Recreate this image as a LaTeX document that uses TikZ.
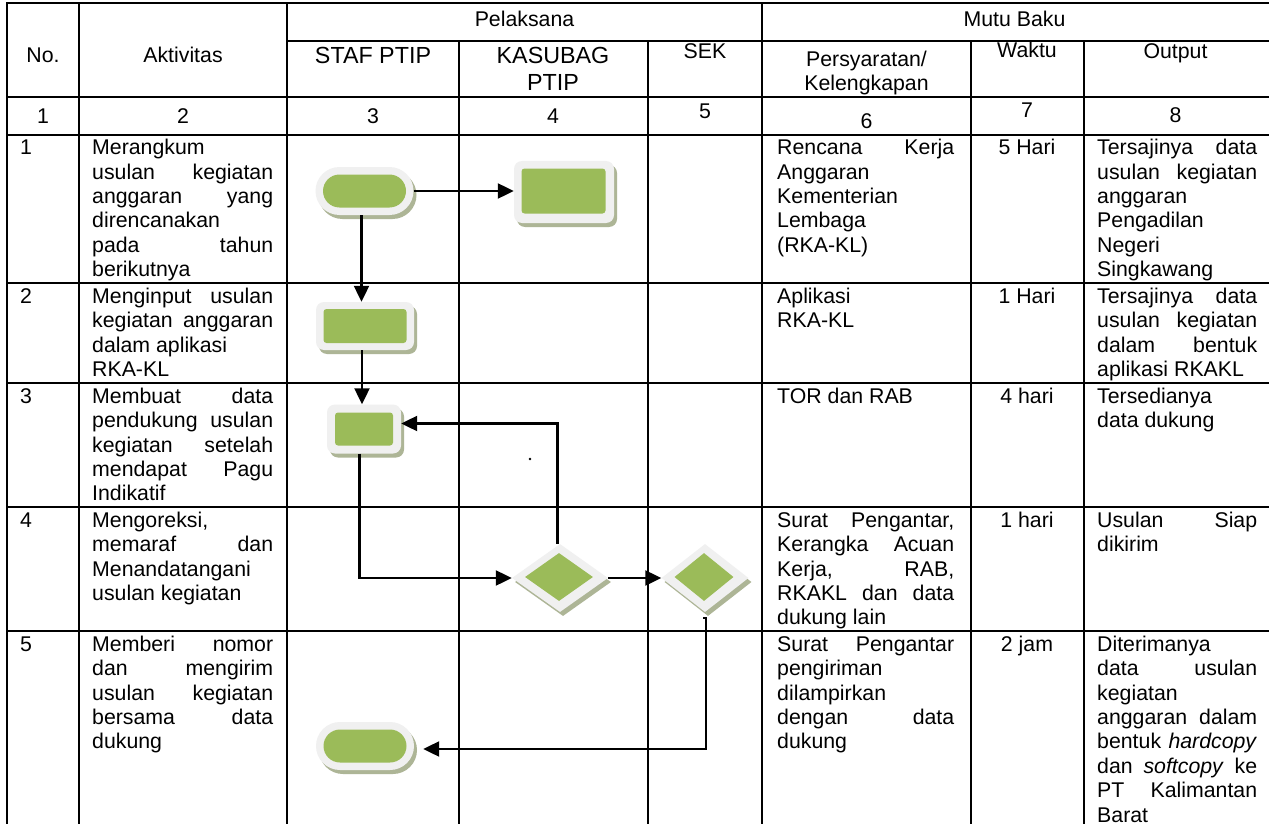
\documentclass[tikz,border=0pt]{standalone}
\usepackage{fontspec}
\setmainfont{Liberation Sans}
\usetikzlibrary{arrows.meta,shapes.geometric,shadows}
\definecolor{grn}{HTML}{9BBB59}
\definecolor{outerc}{HTML}{F0F0F0}
\definecolor{shd}{HTML}{ADB596}
\newcommand\JA[1]{\makebox[181pt][s]{#1}}
\newcommand\JP[1]{\makebox[177pt][s]{#1}}
\newcommand\JO[1]{\makebox[160pt][s]{#1}}
\newcommand\fl{\rule{0pt}{16pt}}
\begin{document}
\begin{tikzpicture}[x=1pt,y=-1pt,
  grid/.style={line width=2pt, line cap=rect},
  body/.style={font=\fontsize{21.3}{24.4}\selectfont, inner sep=0pt, align=left, anchor=north west},
  ctr/.style={font=\fontsize{21.3}{24.4}\selectfont, inner sep=0pt, anchor=base},
  big/.style={font=\fontsize{23.3}{26.8}\selectfont, inner sep=0pt, anchor=base},
  shadowed/.style={drop shadow={shadow xshift=3pt, shadow yshift=-4pt, fill=shd, opacity=1}},
  termout/.style={rectangle, rounded corners=24pt, minimum width=98pt, minimum height=48pt, inner sep=0pt, fill=outerc, shadowed},
  termin/.style={rectangle, rounded corners=16.5pt, minimum width=83pt, minimum height=33pt, inner sep=0pt, fill=grn},
  boxout/.style={rectangle, rounded corners=8pt, inner sep=0pt, fill=outerc, shadowed},
  boxin/.style={rectangle, rounded corners=3pt, inner sep=0pt, fill=grn},
  dout/.style={diamond, inner sep=0pt, fill=outerc, shadowed},
  din/.style={diamond, inner sep=0pt, fill=grn},
  arr/.style={line width=2.2pt, -{Triangle[length=16pt,width=15pt]}}
]
\useasboundingbox (0,0) rectangle (1269,824);
\fill[white] (0,0) rectangle (1269,824);

% ---- table grid ----
\foreach \y in {3,97,135,283,383,507,631} \draw[grid] (7,\y) -- (1269,\y);
\draw[grid] (287,41) -- (1269,41);
\foreach \x in {7,79,287,762} \draw[grid] (\x,3) -- (\x,824);
\foreach \x in {459,648,971,1084} \draw[grid] (\x,41) -- (\x,824);

% ---- header texts ----
\node[ctr] (hpel) at (524.5,26.6) {Pelaksana};
\node[ctr] (hmutu) at (1014.5,26.6) {Mutu Baku};
\node[ctr] (hno) at (43,62.6) {No.};
\node[ctr] (hakt) at (183,62.6) {Aktivitas};
\node[big] (hstaf) at (373,63.3) {STAF PTIP};
\node[big] (hkas1) at (553,63.3) {KASUBAG};
\node[big] (hkas2) at (553,90.1) {PTIP};
\node[ctr] (hsek) at (705,58.6) {SEK};
\node[ctr] (hper1) at (866.5,66.6) {Persyaratan/};
\node[ctr] (hper2) at (866.5,91) {Kelengkapan};
\node[ctr] (hwak) at (1027,57.6) {Waktu};
\node[ctr] (hout) at (1175.5,58.6) {Output};
\node[ctr] (n1) at (43,123.6) {1};
\node[ctr] (n2) at (183,123.6) {2};
\node[ctr] (n3) at (373,123.6) {3};
\node[ctr] (n4) at (553,123.6) {4};
\node[ctr] (n5) at (705,118.6) {5};
\node[ctr] (n6) at (866.5,128.6) {6};
\node[ctr] (n7) at (1027,117.6) {7};
\node[ctr] (n8) at (1175.5,122.6) {8};

% ---- row 1 ----
\node[body] (r1no) at (20,138.5) {\fl 1};
\node[body] (r1akt) at (92,138.5) {\fl Merangkum\\ \JA{usulan kegiatan}\\ \JA{anggaran yang}\\ direncanakan\\ \JA{pada tahun}\\ berikutnya};
\node[body] (r1per) at (777,138.5) {\fl\JP{Rencana Kerja}\\ Anggaran\\ Kementerian\\ Lembaga\\ (RKA-KL)};
\node[body,anchor=north] (r1wak) at (1027,138.5) {\fl 5 Hari};
\node[body] (r1out) at (1097,138.5) {\fl\JO{Tersajinya data}\\ \JO{usulan kegiatan}\\ anggaran\\ Pengadilan\\ Negeri\\ Singkawang};

% ---- row 2 ----
\node[body] (r2no) at (20,287) {\fl 2};
\node[body] (r2akt) at (92,287) {\fl\JA{Menginput usulan}\\ \JA{kegiatan anggaran}\\ dalam aplikasi\\ RKA-KL};
\node[body] (r2per) at (777,287) {\fl Aplikasi\\ RKA-KL};
\node[body,anchor=north] (r2wak) at (1027,287) {\fl 1 Hari};
\node[body] (r2out) at (1097,287) {\fl\JO{Tersajinya data}\\ \JO{usulan kegiatan}\\ \JO{dalam bentuk}\\ aplikasi RKAKL};

% ---- row 3 ----
\node[body] (r3no) at (20,387) {\fl 3};
\node[body] (r3akt) at (92,387) {\fl\JA{Membuat data}\\ \JA{pendukung usulan}\\ \JA{kegiatan setelah}\\ \JA{mendapat Pagu}\\ Indikatif};
\node[body] (r3per) at (777,387) {\fl TOR dan RAB};
\node[body,anchor=north] (r3wak) at (1027,387) {\fl 4 hari};
\node[body] (r3out) at (1097,387) {\fl Tersedianya\\ data dukung};

% ---- row 4 ----
\node[body] (r4no) at (20,511) {\fl 4};
\node[body] (r4akt) at (92,511) {\fl Mengoreksi,\\ \JA{memaraf dan}\\ Menandatangani\\ usulan kegiatan};
\node[body] (r4per) at (777,511) {\fl\JP{Surat Pengantar,}\\ \JP{Kerangka Acuan}\\ \JP{Kerja, RAB,}\\ \JP{RKAKL dan data}\\ dukung lain};
\node[body,anchor=north] (r4wak) at (1027,511) {\fl 1 hari};
\node[body] (r4out) at (1097,511) {\fl\JO{Usulan Siap}\\ dikirim};

% ---- row 5 ----
\node[body] (r5no) at (20,635) {\fl 5};
\node[body] (r5akt) at (92,635) {\fl\JA{Memberi nomor}\\ \JA{dan mengirim}\\ \JA{usulan kegiatan}\\ \JA{bersama data}\\ dukung};
\node[body] (r5per) at (777,635) {\fl\JP{Surat Pengantar}\\ pengiriman\\ dilampirkan\\ \JP{dengan data}\\ dukung};
\node[body,anchor=north] (r5wak) at (1027,635) {\fl 2 jam};
\node[body] (r5out) at (1097,635) {\fl Diterimanya\\ \JO{data usulan}\\ kegiatan\\ \JO{anggaran dalam}\\ \JO{bentuk \textit{hardcopy}}\\ \JO{dan \textit{softcopy} ke}\\ \JO{PT Kalimantan}\\ Barat};

% ---- flow shapes ----
\node[termout] (t1) at (364.5,191) {};
\node[termin] (t1i) at (t1) {};
\node[boxout, minimum width=100pt, minimum height=62pt] (b1) at (564,192) {};
\node[boxin, minimum width=84pt, minimum height=45pt] (b1i) at (563.5,191) {};
\node[boxout, minimum width=98pt, minimum height=48pt] (b2) at (365,326) {};
\node[boxin, minimum width=83pt, minimum height=34pt] (b2i) at (b2) {};
\node[boxout, minimum width=74pt, minimum height=49pt] (b3) at (364,429) {};
\node[boxin, minimum width=58pt, minimum height=33pt] (b3i) at (b3) {};
\node[dout, minimum width=96pt, minimum height=68pt] (d1) at (560,578) {};
\node[din, minimum width=68pt, minimum height=48pt] (d1i) at (559,577) {};
\node[dout, minimum width=87pt, minimum height=68pt] (d2) at (705,578) {};
\node[din, minimum width=59pt, minimum height=48pt] (d2i) at (704,577) {};
\node[termout] (t2) at (365,746) {};
\node[termin] (t2i) at (t2) {};

% ---- connectors ----
\draw[arr] (t1.east) -- (t1.east -| b1.west);
\draw[arr] ([xshift=-3pt]t1.south) -- ([xshift=-3pt]t1.south |- b2.north);
\draw[arr] ([xshift=-3pt]b2.south) -- ([xshift=-3pt]b2.south |- b3.north);
\draw[arr] ([xshift=-4.5pt]b3.south) |- (d1.west);
\draw[arr] ([xshift=-2.5pt]d1.north) |- ([yshift=5.5pt]b3.east);
\draw[arr] (d1.east) -- (d2.west);
\coordinate (t2in) at ([xshift=9pt,yshift=-3pt]t2.east);
\draw[arr] ([xshift=-2pt,yshift=-6pt]d2.south) -- ++(3,0) |- (t2in);
\fill (530,459) circle (1.3pt);
\end{tikzpicture}
\end{document}
